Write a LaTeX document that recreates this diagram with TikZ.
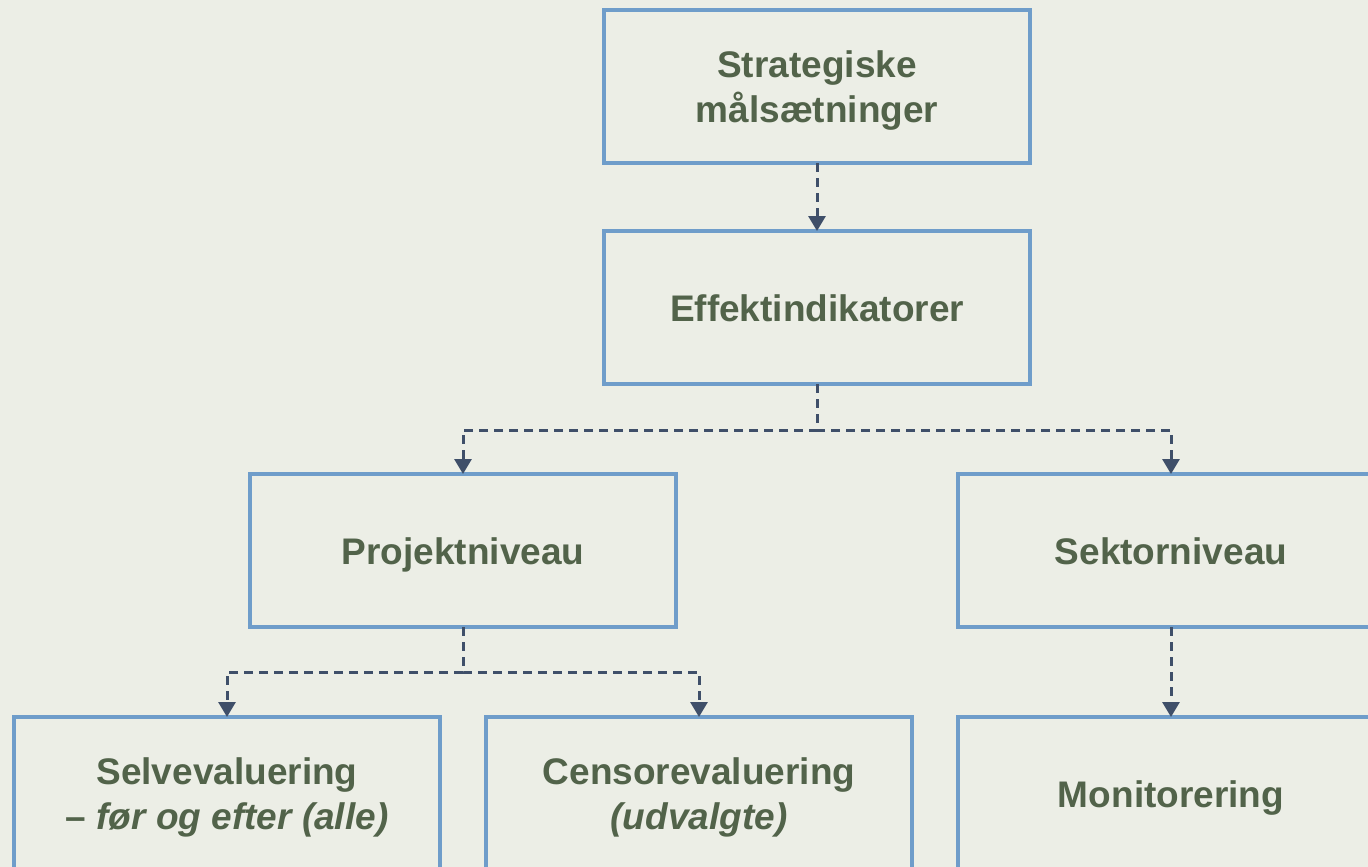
\documentclass[tikz,border=0pt]{standalone}
\usepackage{fontspec}
\setmainfont{Liberation Sans}
\usetikzlibrary{arrows.meta}
\definecolor{bgc}{HTML}{ECEEE6}
\definecolor{boxc}{HTML}{6F9DCA}
\definecolor{txtc}{HTML}{52634A}
\definecolor{arrc}{HTML}{3F4F69}
\tikzset{
  box/.style={draw=boxc, line width=4pt, minimum width=426pt, minimum height=153pt,
    inner sep=0pt, outer sep=0pt, align=center, text=txtc, text depth=0pt,
    font=\fontsize{37}{45}\selectfont\bfseries},
  onebox/.style={box, text height=27pt},
  conn/.style={draw=arrc, line width=3pt, dash pattern=on 9pt off 6pt,
    -{Triangle[width=17pt,length=15pt]}}
}
\begin{document}
\begin{tikzpicture}[x=1pt,y=-1pt]
\fill[bgc] (0,0) rectangle (1368,867);
\useasboundingbox (0,0) rectangle (1368,867);
\clip (0,0) rectangle (1368,867);
\node[box] (strat) at (817,86.5) {Strategiske\\målsætninger};
\node[onebox] (eff) at (817,307.5) {Effektindikatorer};
\node[onebox] (proj) at (463,550.5) {Projektniveau};
\node[onebox] (sekt) at (1171,550.5) {Sektorniveau};
\node[box] (selv) at (227,793.5) {Selvevaluering\\– \textit{før og efter (alle)}};
\node[box] (cens) at (699,793.5) {Censorevaluering\\\textit{(udvalgte)}};
\node[onebox] (moni) at (1171,793.5) {Monitorering};
\coordinate (j1) at (817,430);
\coordinate (j2) at (463,672);
\draw[conn] (strat.south) -- (eff.north);
\draw[conn] (eff.south) -- (j1) -| (proj.north);
\draw[conn] (eff.south) -- (j1) -| (sekt.north);
\draw[conn] (proj.south) -- (j2) -| (selv.north);
\draw[conn] (proj.south) -- (j2) -| (cens.north);
\draw[conn] (sekt.south) -- (moni.north);
\end{tikzpicture}
\end{document}
